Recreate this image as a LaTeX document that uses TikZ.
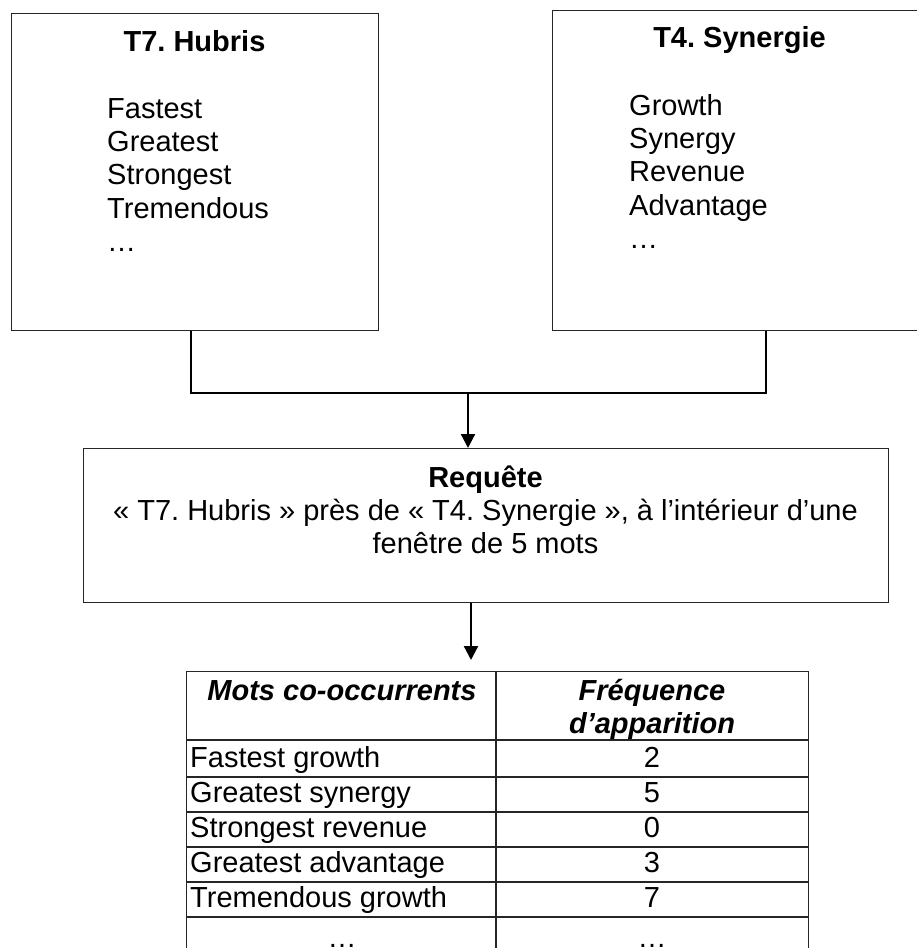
\documentclass[tikz,border=0pt]{standalone}
\usepackage{fontspec}
\setmainfont{Liberation Sans}
\usetikzlibrary{arrows.meta}
\frenchspacing
\begin{document}
\begin{tikzpicture}[x=1pt,y=-1pt,
  box/.style={draw=black!85,line width=1.4pt,inner sep=0pt,anchor=north west},
  link/.style={draw=black,line width=2.2pt},
  arr/.style={link,-{Triangle[length=14pt,width=14pt]}},
  grid/.style={draw=black!85,line width=1.3pt},
  base/.style={inner sep=0pt,font=\fontsize{29}{33.4}\selectfont},
  item/.style={base,anchor=base west},
  title/.style={base,anchor=base,font=\fontsize{29}{33.4}\selectfont\bfseries},
  centred/.style={base,anchor=base},
  head/.style={base,anchor=base,font=\fontsize{29}{33.4}\selectfont\bfseries\itshape}
]
\useasboundingbox (0,0) rectangle (916,948);

% two theme boxes
\node[box,minimum width=367pt,minimum height=317pt] (hubris) at (11,13) {};
\node[box,minimum width=375pt,minimum height=320pt] (synergie) at (552,10) {};

\node[title] (hubrisT) at (194.5,51) {T7. Hubris};
\foreach \w [count=\i] in {Fastest,Greatest,Strongest,Tremendous,…}
  \node[item] (h\i) at (107,{118+33.4*(\i-1)}) {\w};

\node[title] (synergieT) at (739.5,47) {T4. Synergie};
\foreach \w [count=\i] in {Growth,Synergy,Revenue,Advantage,…}
  \node[item] (s\i) at (629,{115+33.4*(\i-1)}) {\w};

% query box
\node[box,minimum width=805pt,minimum height=154pt] (requete) at (83,448) {};
\node[title] (reqT) at (485.5,487) {Requête};
\node[centred] (req1) at (485.5,520) {« T7. Hubris » près de « T4. Synergie », à l’intérieur d’une};
\node[centred] (req2) at (485.5,553) {fenêtre de 5 mots};

% result table
\node[box,draw=black!85,line width=1.3pt,minimum width=622pt,minimum height=300pt] (tbl) at (186,671) {};
\coordinate (colsep) at (496,0);
\draw[grid] (colsep |- tbl.north) -- (colsep |- tbl.south);
\foreach \y in {740,777,812,847,882,917}
  \draw[grid] (tbl.west |- 0,\y) -- (tbl.east |- 0,\y);

\node[head] (hd1) at (342,700) {Mots co-occurrents};
\node[head] (hd2) at (652,700) {Fréquence};
\node[head] (hd3) at (652,733) {d’apparition};

\foreach \a/\b [count=\i] in {Fastest growth/2,Greatest synergy/5,Strongest revenue/0,Greatest advantage/3,Tremendous growth/7}{
  \node[item] (ra\i) at (190,{767+35*(\i-1)}) {\a};
  \node[centred] (rb\i) at (652,{767+35*(\i-1)}) {\b};
}
\node[centred] (ra6) at (342,947) {…};
\node[centred] (rb6) at (652,947) {…};

% connectors
\coordinate (jl) at (191,393);
\coordinate (jr) at (766,393);
\coordinate (jm) at (468,393);
\draw[link] (hubris.south -| jl) -- (jl) -- (jr) -- (synergie.south -| jr);
\draw[arr] (jm) -- (jm |- requete.north);
\coordinate (km) at (471,0);
\draw[arr,shorten >=11pt] (km |- requete.south) -- (km |- tbl.north);
\end{tikzpicture}
\end{document}
